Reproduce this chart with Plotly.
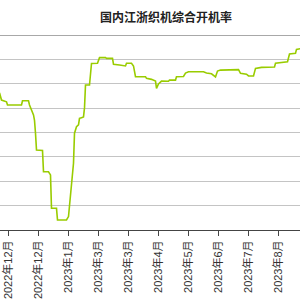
import plotly.graph_objects as go

# trading-day index and operating rate (%)
day_idx = [0, 2, 7, 8, 22, 23, 29, 30, 34, 35, 36, 37, 43, 44, 49, 51, 52, 57, 58, 67,
           69, 72, 74, 75, 77, 79, 80, 82, 84, 85, 86, 90, 92, 98, 100, 106, 107, 113, 114,
           120, 126, 127, 132, 134, 136, 146, 147, 152, 156, 157, 159, 162, 169, 170, 176,
           177, 184, 186, 189, 204, 207, 212, 216, 218, 221, 239, 241, 247, 249, 254, 256,
           262, 275, 276, 283, 288, 290, 296, 297, 302]
rate = [56.3, 53.3, 52.6, 51.3, 51.3, 53.0, 53.0, 51.3, 47.2, 45.0, 39.7, 32.8, 32.6, 23.9,
        23.9, 22.6, 8.9, 8.9, 4.1, 4.1, 5.5, 17.8, 27.4, 39.7, 42.4, 43.1, 45.8, 46.1, 46.4,
        50.1, 59.5, 59.5, 68.3, 68.4, 70.7, 70.7, 70.4, 70.4, 68.0, 67.7, 67.3, 68.4, 68.4,
        67.3, 62.9, 62.9, 62.2, 61.8, 61.1, 58.1, 59.9, 61.1, 61.0, 61.5, 61.5, 62.9, 63.0,
        64.4, 64.9, 64.9, 64.4, 64.1, 62.8, 65.2, 65.6, 65.8, 64.3, 63.9, 63.2, 63.2, 66.3,
        66.7, 66.9, 68.4, 68.7, 69.0, 72.2, 72.5, 74.1, 74.5]

tick_idx = [9, 39, 69, 99, 129, 159, 189, 219, 249, 279]
tick_text = ["2022年12月", "2022年12月", "2023年1月", "2023年3月", "2023年3月",
             "2023年4月", "2023年5月", "2023年6月", "2023年7月", "2023年8月"]

fig = go.Figure()
fig.add_trace(go.Scatter(x=day_idx, y=rate, mode="lines",
                         line=dict(color="#99cc00", width=1.6), showlegend=False))

fig.update_layout(
    width=300, height=300,
    margin=dict(l=0, r=0, t=35, b=70),
    paper_bgcolor="white", plot_bgcolor="white",
    title=dict(text="<b>国内江浙织机综合开机率</b>", x=0.553, xanchor="center",
               y=0.94, yanchor="middle",
               font=dict(family="Noto Sans CJK SC", size=12, color="#222")),
    xaxis=dict(range=[0.5, 300.5], tickmode="array", tickvals=tick_idx, ticktext=tick_text,
               tickangle=-90, ticks="outside", ticklen=5, tickcolor="#444", tickwidth=1,
               showline=True, linecolor="#444", linewidth=1, showgrid=False, zeroline=False,
               tickfont=dict(family="Liberation Sans, Noto Sans CJK SC", size=11, color="#333")),
    yaxis=dict(range=[0, 80], dtick=10, showgrid=True, gridcolor="#c4c4c4", gridwidth=1,
               showticklabels=False, zeroline=False, showline=False),
    shapes=[dict(type="line", xref="paper", yref="y", x0=0, x1=1, y0=80, y1=80,
                 line=dict(color="#a8a8a8", width=2))],
)

fig.write_html("out.html")
